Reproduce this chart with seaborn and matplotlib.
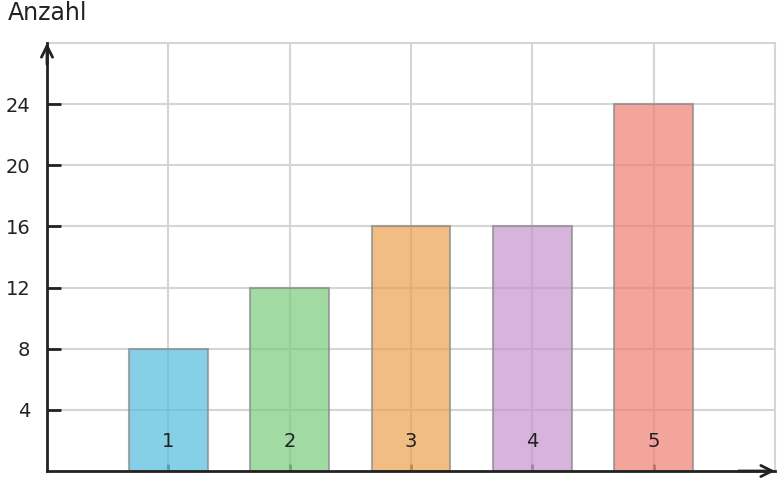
import matplotlib
matplotlib.use("Agg")
import matplotlib.pyplot as plt
from matplotlib.transforms import ScaledTranslation
import seaborn as sns
import pandas as pd

categories = ["1", "2", "3", "4", "5"]
counts = [8, 12, 16, 16, 24]
bar_colors = ["#52bcde", "#79cc7c", "#eca14f", "#c794cd", "#ee7f73"]
y_ticks = [4, 8, 12, 16, 20, 24]
y_label = "Anzahl"

sns.set_theme(style="white")
plt.rcParams['font.family'] = ['DejaVu Sans']

df = pd.DataFrame({"x": categories, "y": counts})

fig = plt.figure(figsize=(7.79, 4.8), dpi=100)
ax = fig.add_axes([47/779, 1 - 471/480, (775 - 47)/779, (471 - 43)/480])

sns.barplot(data=df, x="x", y="y", hue="x", palette=bar_colors, legend=False,
            width=0.65, alpha=0.7, edgecolor="#888888", linewidth=1.5,
            saturation=1, ax=ax, zorder=3)

ax.set_xlim(-1, 5)
ax.set_ylim(0, 28)
ax.set_yticks(y_ticks)
ax.set_yticklabels([str(t) for t in y_ticks])
ax.set_xlabel("")
ax.set_ylabel("")

ax.grid(True, color="#d5d5d5", linewidth=1.5, zorder=0)
ax.set_axisbelow(True)

for s in ["top", "right"]:
    ax.spines[s].set_color("#d5d5d5")
    ax.spines[s].set_linewidth(1.5)
for s in ["left", "bottom"]:
    ax.spines[s].set_color("#222222")
    ax.spines[s].set_linewidth(2)
    ax.spines[s].set_zorder(5)

ax.tick_params(axis="y", direction="in", length=10, width=2, color="#222222",
               labelsize=14, labelcolor="#222222", pad=12, left=True)
ax.tick_params(axis="x", direction="in", length=5, width=2, color="#555555",
               labelbottom=False, bottom=True)

# category labels drawn inside the bars, above them
label_tr = ax.get_xaxis_transform() + ScaledTranslation(0, 20/100, fig.dpi_scale_trans)
for i, cat in enumerate(categories):
    ax.text(i, 0, cat, transform=label_tr, fontsize=14,
            color="#222222", ha="center", va="bottom", zorder=10)

ax.annotate("", xy=(1.0, 0), xytext=(0.95, 0), xycoords="axes fraction",
            arrowprops=dict(arrowstyle="->", lw=2, color="#222222",
                            mutation_scale=20, shrinkA=0, shrinkB=0),
            annotation_clip=False, zorder=6)
ax.annotate("", xy=(0, 1.0), xytext=(0, 0.95), xycoords="axes fraction",
            arrowprops=dict(arrowstyle="->", lw=2, color="#222222",
                            mutation_scale=20, shrinkA=0, shrinkB=0),
            annotation_clip=False, zorder=6)

fig.text(8/779, 1 - 13/480, y_label, fontsize=17, color="#222222",
         ha="left", va="center")

fig.savefig("out.png", dpi=100)
